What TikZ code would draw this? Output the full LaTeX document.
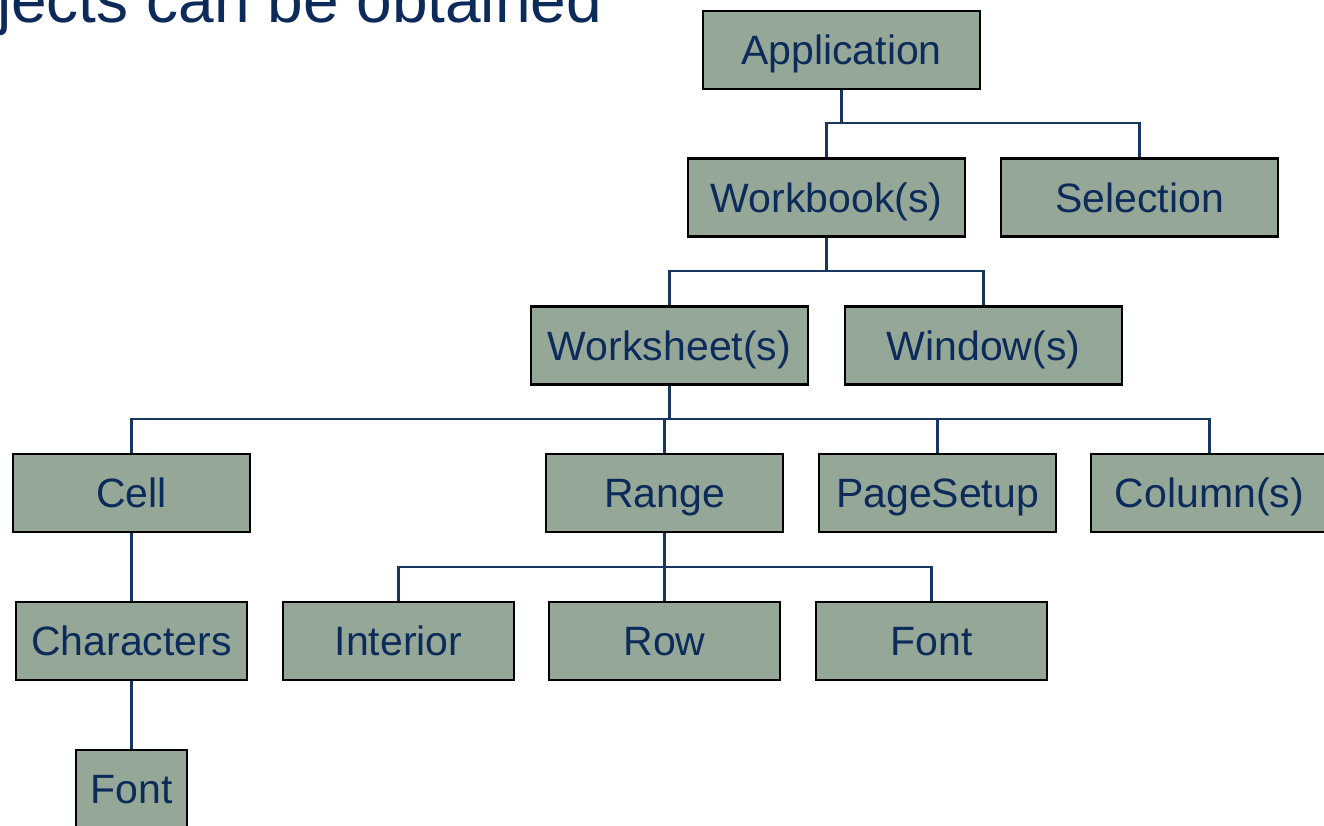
\documentclass[tikz,border=0pt]{standalone}
\usepackage{fontspec}
\setmainfont{Liberation Sans}
\definecolor{boxfill}{HTML}{95A898}
\definecolor{navy}{HTML}{0D2B5A}
\definecolor{linenavy}{HTML}{17375E}
\begin{document}
\begin{tikzpicture}[x=1pt,y=-1pt,
  objbox/.style={draw=black, line width=2.3pt, fill=boxfill, rectangle, inner sep=0pt,
    minimum height=78pt, text height=29.4pt, text depth=0pt, text=navy,
    font=\fontsize{41}{48}\selectfont},
  wA/.style={minimum width=277pt},
  wB/.style={minimum width=237pt},
  wC/.style={minimum width=231pt},
  conn/.style={draw=linenavy, line width=2.2pt}]
\useasboundingbox (0,0) rectangle (1324,825);
% title fragment
\node[anchor=base west, inner sep=0pt, text=navy, font=\fontsize{64}{72}\selectfont] (title) at (-3,22) {jects can be obtained};
% nodes
\node[objbox,wA] (app) at (841.5,50) {Application};
\node[objbox,wA] (wb) at (826.5,197.5) {Workbook(s)};
\node[objbox,wA] (sel) at (1139.5,197.5) {Selection};
\node[objbox,wA] (ws) at (669.5,345.5) {Worksheet(s)};
\node[objbox,wA] (win) at (983.5,345.5) {Window(s)};
\node[objbox,wB] (cell) at (131.5,493) {Cell};
\node[objbox,wB] (range) at (664.5,493) {Range};
\node[objbox,wB] (ps) at (937.5,493) {PageSetup};
\node[objbox,wB] (col) at (1209.5,493) {Column(s)};
\node[objbox,wC] (chars) at (131.5,641) {Characters};
\node[objbox,wC] (int) at (398.5,641) {Interior};
\node[objbox,wC] (row) at (664.5,641) {Row};
\node[objbox,wC] (font) at (931.5,641) {Font};
\node[objbox,minimum width=111pt] (font2) at (131.5,789) {Font};
% bus points
\coordinate (b1) at (841.5,123);
\coordinate (b2) at (826.5,271);
\coordinate (b3) at (669.5,419);
\coordinate (b4) at (664.5,567);
% connectors
\draw[conn] (app.south) -- (b1);
\draw[conn] (wb.north) |- (b1) -| (sel.north);
\draw[conn] (wb.south) -- (b2);
\draw[conn] (ws.north) |- (b2) -| (win.north);
\draw[conn] (ws.south) -- (b3);
\draw[conn] (cell.north) |- (b3) -| (col.north);
\draw[conn] (range.north) |- (b3);
\draw[conn] (ps.north) |- (b3);
\draw[conn] (range.south) -- (b4);
\draw[conn] (int.north) |- (b4) -| (font.north);
\draw[conn] (b4) -- (row.north);
\draw[conn] (cell.south) -- (chars.north);
\draw[conn] (chars.south) -- (font2.north);
\end{tikzpicture}
\end{document}
